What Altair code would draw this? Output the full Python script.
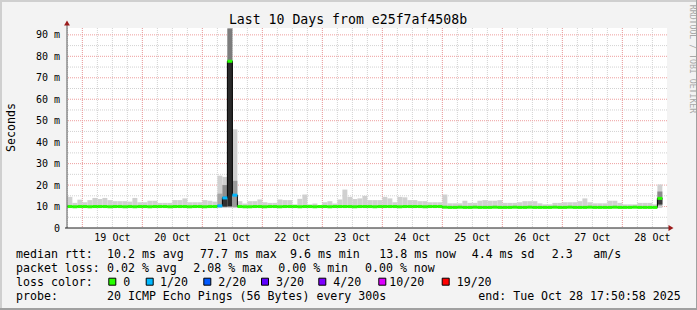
import altair as alt
import pandas as pd

# ---------------- data ----------------
TITLE = "Last 10 Days from e25f7af4508b"
Y_TITLE = "Seconds"
WATERMARK = "RRDTOOL / TOBI OETIKER"

SPAN_HOURS = 240                               # graph spans Oct 18 17:50:58 .. Oct 28 17:50:58
FIRST_MIDNIGHT_H = 6 + 9 / 60 + 2 / 3600       # 19 Oct 00:00 in hours after start
FIRST_BIN_H = FIRST_MIDNIGHT_H - 6             # 18 Oct 18:00
BIN_HOURS = 2

DAY_LABELS = ["19 Oct", "20 Oct", "21 Oct", "22 Oct", "23 Oct",
              "24 Oct", "25 Oct", "26 Oct", "27 Oct", "28 Oct"]

Y_TICKS = [0, 10, 20, 30, 40, 50, 60, 70, 80, 90]
Y_TICK_LABELS = ["0", "10 m", "20 m", "30 m", "40 m", "50 m", "60 m", "70 m", "80 m", "90 m"]
Y_MAX = 93.2

SMOKE_BOTTOM = 9.3
SMOKE_TOP = [
    14.5, 11.7, 13.2, 12.0, 13.0, 14.0, 13.5, 14.0, 13.0, 12.5,
    12.5, 12.5, 12.3, 14.0, 12.0, 12.0, 12.7, 12.7, 11.7, 11.7,
    11.7, 13.0, 13.0, 13.8, 12.0, 12.0, 12.0, 13.0, 12.7, 12.3,
    24.4, 23.8, 93.0, 46.0, 12.5, 11.4, 12.5, 12.5, 13.3, 12.0,
    11.7, 11.7, 13.3, 13.0, 13.0, 11.0, 13.6, 15.6, 11.0, 11.4,
    10.3, 12.0, 12.5, 11.4, 13.3, 17.9, 14.5, 13.5, 13.8, 15.0,
    13.0, 13.0, 13.0, 14.5, 13.8, 12.0, 14.5, 14.3, 13.0, 13.0,
    12.5, 12.5, 12.0, 12.0, 12.0, 15.6, 11.5, 11.5, 11.5, 12.7,
    11.7, 11.7, 12.7, 13.0, 12.7, 12.7, 13.0, 11.7, 11.7, 11.7,
    12.0, 12.5, 12.5, 12.5, 11.5, 11.0, 11.0, 11.7, 11.7, 12.0,
    12.0, 12.0, 12.5, 13.8, 12.0, 11.5, 11.5, 11.5, 12.7, 12.7,
    11.7, 11.0, 11.0, 11.0, 11.7, 11.7, 11.7, 11.0, 20.3,
]
MEDIAN = [
    10.0, 9.9, 10.0, 10.0, 9.9, 10.0, 10.0, 10.0, 9.9, 10.0,
    10.0, 9.9, 10.0, 9.9, 10.0, 10.0, 9.9, 10.0, 10.0, 10.0,
    9.9, 10.0, 10.0, 10.0, 9.9, 10.0, 10.0, 9.9, 10.0, 10.0,
    10.3, 14.0, 77.7, 15.3, 10.0, 9.9, 9.9, 10.0, 10.0, 9.9,
    10.0, 10.0, 9.9, 10.0, 10.0, 10.0, 9.9, 10.0, 10.0, 9.9,
    10.0, 10.0, 9.9, 10.0, 10.0, 10.0, 10.0, 9.9, 10.0, 10.0,
    10.0, 9.9, 10.0, 10.0, 10.0, 10.0, 9.9, 10.0, 10.0, 10.0,
    10.0, 9.9, 10.0, 10.0, 10.0, 9.7, 9.6, 9.6, 9.7, 9.6,
    9.6, 9.7, 9.6, 9.6, 9.6, 9.7, 9.6, 9.6, 9.6, 9.7,
    9.6, 9.6, 9.7, 9.6, 9.6, 9.6, 9.6, 9.7, 9.6, 9.6,
    9.7, 9.6, 9.6, 9.6, 9.7, 9.6, 9.6, 9.6, 9.6, 9.7,
    9.6, 9.6, 9.6, 9.7, 9.6, 9.6, 9.6, 9.6, 13.8,
]
LOSS = [0] * 119
LOSS[30] = 1
LOSS[31] = 1
LOSS[33] = 1

# darker inner smoke bands of the disturbed periods
INNER_BIN = [30, 31, 31, 32, 32, 33, 118, 118]
INNER_LO = [9.8, 9.8, 10.0, 10.0, 78.0, 9.8, 10.5, 11.0]
INNER_HI = [16.0, 20.0, 14.5, 78.0, 93.0, 22.0, 17.0, 13.8]
INNER_SHADE = ["#a5a5a5", "#8e8e8e", "#303030", "#2a2a2a", "#7c7c7c", "#9a9a9a", "#8a8a8a", "#3c3c3c"]

LOSS_LEVELS = [0, 1, 2, 3, 4, 10, 19]
LOSS_COLORS = ["#26ff00", "#00b8ff", "#0059ff", "#5e00ff", "#7e00ff", "#dd00ff", "#ff0000"]
LOSS_LABELS = ["0", "1/20", "2/20", "3/20", "4/20", "10/20", "19/20"]

ROW_LABELS = ["median rtt:", "packet loss:", "loss color:", "probe:"]
RTT_ITEMS = ["10.2 ms avg", "77.7 ms max", "9.6 ms min", "13.8 ms now", "4.4 ms sd", "2.3", "am/s"]
PKT_ITEMS = ["0.02 % avg", "2.08 % max", "0.00 % min", "0.00 % now"]
PROBE_TEXT = "20 ICMP Echo Pings (56 Bytes) every 300s"
END_TEXT = "end: Tue Oct 28 17:50:58 2025"

# ---------------- layout (absolute pixels) ----------------
PL, PT, PW, PH = 67, 28, 600, 200
ROW_BASE = [258.3, 272.3, 286.3, 300.3]
RTT_X = [107, 200, 290, 379.3, 471.7, 551.7, 593.3]
PKT_X = [107, 193.3, 278.3, 365]
SWATCH_X = [108.3, 145.7, 203.3, 261, 318.3, 378.3, 441.7]
SWATCH_TEXT_X = [123.3, 160, 218.3, 276, 333.3, 389.3, 456.7]
PROBE_X, END_X = 107, 478.3

MONO = "DejaVu Sans Mono"
SMOKE_COLOR = "#d0d0d0"
MINOR_GRID = "#d2d2d2"
MAJOR_GRID = "#ee9f9f"
ARROW = "#9b1b1b"

xs = alt.Scale(domain=[0, SPAN_HOURS], nice=False, zero=False)
ys = alt.Scale(domain=[0, Y_MAX], nice=False, zero=False)


def loss_color(n):
    c = LOSS_COLORS[0]
    for lvl, col in zip(LOSS_LEVELS, LOSS_COLORS):
        if n >= lvl:
            c = col
    return c


starts = [max(0.0, FIRST_BIN_H + BIN_HOURS * i) for i in range(len(SMOKE_TOP))]
ends = [FIRST_BIN_H + BIN_HOURS * (i + 1) for i in range(len(SMOKE_TOP))]
bins = pd.DataFrame({
    "start": starts, "end": ends, "bottom": [SMOKE_BOTTOM] * len(SMOKE_TOP),
    "top": SMOKE_TOP, "median": MEDIAN,
    "mcolor": [loss_color(n) for n in LOSS],
})
inner = pd.DataFrame({
    "start": [starts[b] for b in INNER_BIN], "end": [ends[b] for b in INNER_BIN],
    "lo": INNER_LO, "hi": INNER_HI, "shade": INNER_SHADE,
})
step = pd.DataFrame({"h": starts + [ends[-1]], "m": MEDIAN + [MEDIAN[-1]]})

minor_v = pd.DataFrame({"h": [FIRST_BIN_H + 6 * k for k in range(40)]})
major_v = pd.DataFrame({"h": [FIRST_MIDNIGHT_H + 24 * k for k in range(10)]})
minor_h = pd.DataFrame({"v": [t + 5 for t in Y_TICKS[:-1]]})
major_h = pd.DataFrame({"v": Y_TICKS[1:]})
xlab = pd.DataFrame({"h": [FIRST_MIDNIGHT_H + 12 + 24 * k for k in range(10)], "t": DAY_LABELS})
ylab = pd.DataFrame({"v": Y_TICKS, "t": Y_TICK_LABELS})

X = lambda f: alt.X(f, scale=xs, axis=None)
Y = lambda f: alt.Y(f, scale=ys, axis=None)
PX = lambda f: alt.X(f, scale=None, axis=None)
PY = lambda f: alt.Y(f, scale=None, axis=None)

layers = []
layers.append(alt.Chart(minor_v).mark_rule(color=MINOR_GRID, strokeDash=[1, 1], strokeWidth=1).encode(x=X("h:Q")))
layers.append(alt.Chart(minor_h).mark_rule(color=MINOR_GRID, strokeDash=[1, 1], strokeWidth=1).encode(y=Y("v:Q")))
layers.append(alt.Chart(major_v).mark_rule(color=MAJOR_GRID, strokeDash=[1, 1], strokeWidth=1).encode(x=X("h:Q")))
layers.append(alt.Chart(major_h).mark_rule(color=MAJOR_GRID, strokeDash=[1, 1], strokeWidth=1).encode(y=Y("v:Q")))

layers.append(alt.Chart(bins).mark_rect(color=SMOKE_COLOR).encode(
    x=X("start:Q"), x2="end:Q", y=Y("bottom:Q"), y2="top:Q"))
layers.append(alt.Chart(inner).mark_rect().encode(
    x=X("start:Q"), x2="end:Q", y=Y("lo:Q"), y2="hi:Q", color=alt.Color("shade:N", scale=None)))
layers.append(alt.Chart(step).mark_line(interpolate="step-after", color="#000000", strokeWidth=1).encode(
    x=X("h:Q"), y=Y("m:Q")))
layers.append(alt.Chart(bins).mark_rule(strokeWidth=3).encode(
    x=X("start:Q"), x2="end:Q", y=Y("median:Q"), color=alt.Color("mcolor:N", scale=None)))

# axes lines and arrows
axes = pd.DataFrame({"px": [0, -2], "px2": [0, PW + 3], "py": [-3, PH], "py2": [PH, PH],
                     "c": ["#5a5a5a", "#1e1e1e"]})
layers.append(alt.Chart(axes).mark_rule(strokeWidth=1).encode(
    x=PX("px:Q"), x2="px2:Q", y=PY("py:Q"), y2="py2:Q", color=alt.Color("c:N", scale=None)))
arrows = pd.DataFrame({"px": [0, PW + 4], "py": [-5, PH], "s": ["triangle-up", "triangle-right"]})
layers.append(alt.Chart(arrows).mark_point(filled=True, size=34, color=ARROW, opacity=1).encode(
    x=PX("px:Q"), y=PY("py:Q"), shape=alt.Shape("s:N", scale=None)))

# tick labels
layers.append(alt.Chart(xlab).mark_text(font=MONO, fontSize=10, align="center", baseline="alphabetic",
                                        color="#000000").encode(
    x=X("h:Q"), y=alt.value(212.7), text="t:N"))
layers.append(alt.Chart(ylab).mark_text(font=MONO, fontSize=10, align="right", baseline="alphabetic",
                                        dy=3.6, color="#000000").encode(
    x=alt.value(-7), y=Y("v:Q"), text="t:N"))

# titles
titles = pd.DataFrame({"px": [348 - PL], "py": [24 - PT], "t": [TITLE]})
layers.append(alt.Chart(titles).mark_text(font=MONO, fontSize=13.2, align="center", baseline="alphabetic",
                                          color="#000000").encode(x=PX("px:Q"), y=PY("py:Q"), text="t:N"))
ytitle = pd.DataFrame({"px": [15 - PL], "py": [127.5 - PT], "t": [Y_TITLE]})
layers.append(alt.Chart(ytitle).mark_text(font=MONO, fontSize=11.6, align="center", baseline="alphabetic",
                                          angle=270, color="#000000").encode(x=PX("px:Q"), y=PY("py:Q"), text="t:N"))
wm = pd.DataFrame({"px": [691.5 - PL], "py": [59 - PT], "t": [WATERMARK]})
layers.append(alt.Chart(wm).mark_text(font=MONO, fontSize=8.2, align="center", baseline="middle",
                                      angle=90, color="#a8a8a8").encode(x=PX("px:Q"), y=PY("py:Q"), text="t:N"))

# legend
rows = []
for i, lab in enumerate(ROW_LABELS):
    rows.append((16, ROW_BASE[i], lab))
for x, t in zip(RTT_X, RTT_ITEMS):
    rows.append((x, ROW_BASE[0], t))
for x, t in zip(PKT_X, PKT_ITEMS):
    rows.append((x, ROW_BASE[1], t))
for x, t in zip(SWATCH_TEXT_X, LOSS_LABELS):
    rows.append((x, ROW_BASE[2], t))
rows.append((PROBE_X, ROW_BASE[3], PROBE_TEXT))
rows.append((END_X, ROW_BASE[3], END_TEXT))
leg = pd.DataFrame({"px": [r[0] - PL for r in rows], "py": [r[1] - PT for r in rows], "t": [r[2] for r in rows]})
layers.append(alt.Chart(leg).mark_text(font=MONO, fontSize=11.6, align="left", baseline="alphabetic",
                                       color="#000000").encode(x=PX("px:Q"), y=PY("py:Q"), text="t:N"))
sw = pd.DataFrame({"px": [x + 0.5 - PL for x in SWATCH_X], "px2": [x + 7.5 - PL for x in SWATCH_X],
                   "py": [278.2 - PT] * 7, "py2": [285.2 - PT] * 7, "c": LOSS_COLORS})
layers.append(alt.Chart(sw).mark_rect(stroke="#000000", strokeWidth=1).encode(
    x=PX("px:Q"), x2="px2:Q", y=PY("py:Q"), y2="py2:Q", color=alt.Color("c:N", scale=None)))

# frame (3D border)
fr = pd.DataFrame({
    "px": [-PL, -PL, -PL, 697 - PL - 1], "px2": [697 - PL, -PL + 2, 697 - PL, 697 - PL],
    "py": [-PT, -PT, 310 - PT - 2, -PT], "py2": [-PT + 2, 310 - PT, 310 - PT, 310 - PT],
    "c": ["#cfcfcf", "#cfcfcf", "#a0a0a0", "#a0a0a0"]})
layers.append(alt.Chart(fr).mark_rect().encode(
    x=PX("px:Q"), x2="px2:Q", y=PY("py:Q"), y2="py2:Q", color=alt.Color("c:N", scale=None)))

chart = alt.layer(*layers).resolve_scale(x="independent", y="independent").properties(
    width=PW, height=PH,
    autosize=alt.AutoSizeParams(type="none"),
    padding={"left": PL, "top": PT, "right": 697 - PL - PW, "bottom": 310 - PT - PH},
    background="#f3f3f3",
).configure_view(fill="#ffffff", strokeWidth=0)

chart.save("out.html", embed_options={"renderer": "svg", "actions": False})
